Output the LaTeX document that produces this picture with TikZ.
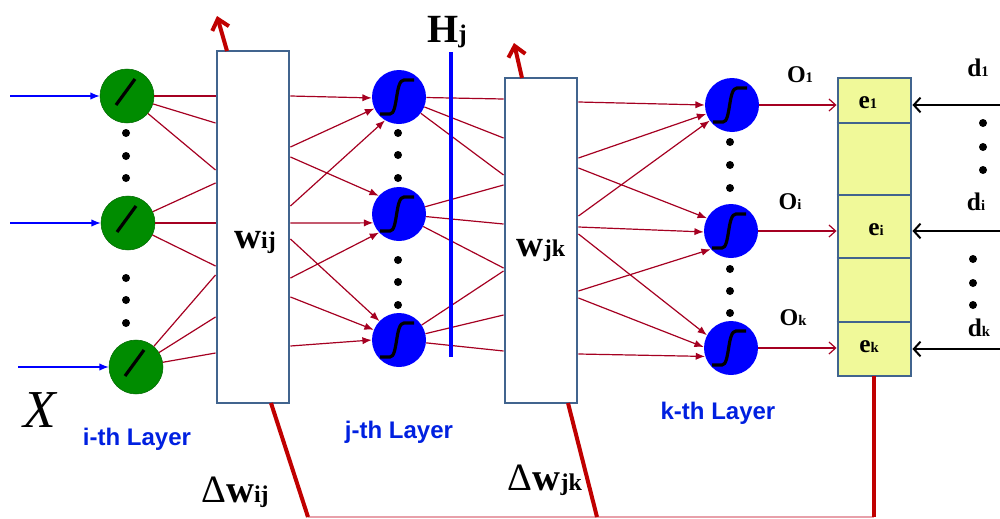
\documentclass[tikz,border=0pt]{standalone}
\usepackage{fontspec}
\setmainfont{Liberation Serif}
\newfontfamily\lsans{Liberation Sans}
\usetikzlibrary{arrows.meta,calc}
\definecolor{nred}{RGB}{165,0,33}
\definecolor{tred}{RGB}{192,0,0}
\definecolor{gnode}{RGB}{0,140,0}
\definecolor{bnode}{RGB}{0,0,255}
\definecolor{boxc}{RGB}{65,100,142}
\definecolor{yfill}{RGB}{240,249,153}
\definecolor{lblue}{RGB}{0,32,224}
\definecolor{pinkl}{RGB}{232,160,170}
\begin{document}
\begin{tikzpicture}[x=0.75pt,y=-0.75pt,
  gn/.style={circle,fill=gnode,draw=gnode!75!black,line width=0.4pt,minimum size=40.5pt,inner sep=0pt},
  bn/.style={circle,fill=bnode,minimum size=40.5pt,inner sep=0pt},
  wbox/.style={draw=boxc,line width=2.2pt,fill=white,inner sep=0pt},
  link/.style={draw=nred,line width=0.9pt},
  alink/.style={link,-{Latex[length=7pt,width=5.5pt]}},
  inarr/.style={draw=blue,line width=0.9pt,-{Latex[length=7pt,width=5.5pt]}},
  oarr/.style={draw=nred,line width=0.9pt,-{Straight Barb[length=5pt,width=9pt]}},
  darr/.style={draw=black,line width=1.5pt,-{Straight Barb[length=5pt,width=11pt]}},
  uparr/.style={draw=tred,line width=3pt,-{Straight Barb[length=7.5pt,width=13pt]}},
  tline/.style={draw=tred,line width=3pt},
  lay/.style={font=\lsans\bfseries\fontsize{18}{18}\selectfont,text=lblue,inner sep=0pt},
  lbl/.style={inner sep=0pt},
  linpic/.pic={\draw[line width=2.4pt] (-11,9) -- (8,-17);},
  sigpic/.pic={\draw[line width=2.4pt] (-19,17) -- (-9,17) .. controls (-1,17) and (-4,-17) .. (5,-17) -- (15,-17);}
]
\useasboundingbox (0,0) rectangle (1000,518);

% boxes
\node[wbox,minimum width=54pt,minimum height=264pt] (wij) at (253,227) {};
\node[wbox,minimum width=54pt,minimum height=243.75pt] (wjk) at (541,240.5) {};
\node[draw=boxc,line width=2.2pt,fill=yfill,minimum width=54.75pt,minimum height=223.5pt,inner sep=0pt] (out) at (874.5,227) {};
\foreach \y in {123,195,258,322} \draw[boxc,line width=0.8pt] (out.west |- 0,\y) -- (out.east |- 0,\y);

% neurons
\node[gn] (g1) at (127,96) {};
\node[gn] (g2) at (128,223) {};
\node[gn] (g3) at (136,367) {};
\node[bn] (h1) at (399,97) {};
\node[bn] (h2) at (399,214) {};
\node[bn] (h3) at (399,340) {};
\node[bn] (k1) at (732,105) {};
\node[bn] (k2) at (731,231) {};
\node[bn] (k3) at (731,348) {};
\foreach \n in {g1,g2,g3} \pic at (\n) {linpic};
\foreach \n in {h1,h2,h3,k1,k2,k3} \pic at (\n) {sigpic};

% dots
\foreach \x/\y in {126/133,126/156,126/178,126/278,126/300,126/323,
  398/133,398/155,398/178,398/260,398/282,398/305,
  730/142,730/165,730/188,730/269,730/291,730/313,
  983/123,983/147,983/170,973/259,973/283,973/305}
  \fill (\x,\y) circle (3pt);

% inputs
\coordinate (x1) at (10,96);
\coordinate (x2) at (10,223);
\coordinate (x3) at (18,367);
\draw[inarr] (x1) -- (g1);
\draw[inarr] (x2) -- (g2);
\draw[inarr] (x3) -- (g3);

% i -> wij
\foreach \y in {96,123,170} \draw[link] (g1) -- (wij.west |- 0,\y);
\foreach \y in {183,223,266} \draw[link] (g2) -- (wij.west |- 0,\y);
\foreach \y in {275,317,353} \draw[link] (g3) -- (wij.west |- 0,\y);

% wij -> j
\draw[alink] (wij.east |- 0,96) -- (h1.182);
\draw[alink] (wij.east |- 0,147) -- (h1.205);
\draw[alink] (wij.east |- 0,206) -- (h1.239);
\draw[alink] (wij.east |- 0,157) -- (h2.138);
\draw[alink] (wij.east |- 0,223) -- (h2.199);
\draw[alink] (wij.east |- 0,278) -- (h2.223);
\draw[alink] (wij.east |- 0,239) -- (h3.136);
\draw[alink] (wij.east |- 0,297) -- (h3.158);
\draw[alink] (wij.east |- 0,346) -- (h3.180);

% j -> wjk
\foreach \y in {99,138,175} \draw[link] (h1) -- (wjk.west |- 0,\y);
\foreach \y in {185,224,268} \draw[link] (h2) -- (wjk.west |- 0,\y);
\foreach \y in {271,315,351} \draw[link] (h3) -- (wjk.west |- 0,\y);

% wjk -> k
\draw[alink] (wjk.east |- 0,102) -- (k1.180);
\draw[alink] (wjk.east |- 0,158) -- (k1.199);
\draw[alink] (wjk.east |- 0,216) -- (k1.215);
\draw[alink] (wjk.east |- 0,168) -- (k2.152);
\draw[alink] (wjk.east |- 0,227) -- (k2.182);
\draw[alink] (wjk.east |- 0,291) -- (k2.222);
\draw[alink] (wjk.east |- 0,234) -- (k3.152);
\draw[alink] (wjk.east |- 0,298) -- (k3.178);
\draw[alink] (wjk.east |- 0,354) -- (k3.198);

% Hj line
\coordinate (hjt) at (451,52);
\coordinate (hjb) at (451,357);
\draw[blue,line width=2.3pt] (hjt) -- (hjb);

% outputs
\draw[oarr] (k1) -- (out.west |- k1);
\draw[oarr] (k2) -- (out.west |- k2);
\draw[oarr] (k3) -- (out.west |- k3);
\coordinate (d1s) at (1000,105);
\coordinate (d2s) at (1000,231);
\coordinate (d3s) at (1000,349);
\draw[darr] (d1s) -- (out.east |- d1s);
\draw[darr] (d2s) -- (out.east |- d2s);
\draw[darr] (d3s) -- (out.east |- d3s);

% up arrows
\coordinate (u1s) at (227,51);
\coordinate (u1e) at (217,16);
\coordinate (u2s) at (522,78);
\coordinate (u2e) at (514,43);
\draw[uparr] (u1s) -- (u1e);
\draw[uparr] (u2s) -- (u2e);

% feedback lines
\coordinate (b1) at (271,403);
\coordinate (b2) at (308,517);
\coordinate (b3) at (568,403);
\coordinate (b4) at (597,517);
\coordinate (b5) at (874,376);
\coordinate (b6) at (874,517);
\draw[pinkl,line width=1.2pt] (b2) -- (b6);
\draw[tline] (b1) -- (b2);
\draw[tline] (b3) -- (b4);
\draw[tline] (b5) -- (b6);

% labels
\node[lbl] (wijl) at (255,242) {\bfseries{\fontsize{28}{28}\selectfont w}{\fontsize{18}{18}\selectfont ij}};
\node[lbl] (wjkl) at (541,250) {\bfseries{\fontsize{28}{28}\selectfont w}{\fontsize{18}{18}\selectfont jk}};
\node[lbl] (hjl) at (447,32) {\bfseries{\fontsize{30}{30}\selectfont H}{\fontsize{19}{19}\selectfont j}};
\node[lbl] (dwij) at (235,492) {{\fontsize{29}{29}\selectfont Δ\bfseries w}{\fontsize{18}{18}\selectfont\bfseries ij}};
\node[lbl] (dwjk) at (545,480) {{\fontsize{29}{29}\selectfont Δ\bfseries w}{\fontsize{18}{18}\selectfont\bfseries jk}};
\node[lbl] (xl) at (40,410) {\fontsize{40}{40}\selectfont\itshape X};
\node[lay] (li) at (137,439) {i-th Layer};
\node[lay] (lj) at (399,432) {j-th Layer};
\node[lay] (lk) at (718,413) {k-th Layer};
\node[lbl] (o1) at (800,75) {\bfseries{\fontsize{18}{18}\selectfont O}{\fontsize{11}{11}\selectfont 1}};
\node[lbl] (oi) at (790,202) {\bfseries{\fontsize{18}{18}\selectfont O}{\fontsize{11}{11}\selectfont i}};
\node[lbl] (ok) at (793,318) {\bfseries{\fontsize{18}{18}\selectfont O}{\fontsize{11}{11}\selectfont k}};
\node[lbl] (e1) at (868,103) {\bfseries{\fontsize{19}{19}\selectfont e}{\fontsize{11}{11}\selectfont 1}};
\node[lbl] (ei) at (876,230) {\bfseries{\fontsize{19}{19}\selectfont e}{\fontsize{11}{11}\selectfont i}};
\node[lbl] (ek) at (869,347) {\bfseries{\fontsize{19}{19}\selectfont e}{\fontsize{11}{11}\selectfont k}};
\node[lbl] (d1) at (978,68) {\bfseries{\fontsize{19}{19}\selectfont d}{\fontsize{11}{11}\selectfont 1}};
\node[lbl] (di) at (976,202) {\bfseries{\fontsize{19}{19}\selectfont d}{\fontsize{11}{11}\selectfont i}};
\node[lbl] (dk) at (979,328) {\bfseries{\fontsize{19}{19}\selectfont d}{\fontsize{11}{11}\selectfont k}};
\end{tikzpicture}
\end{document}
